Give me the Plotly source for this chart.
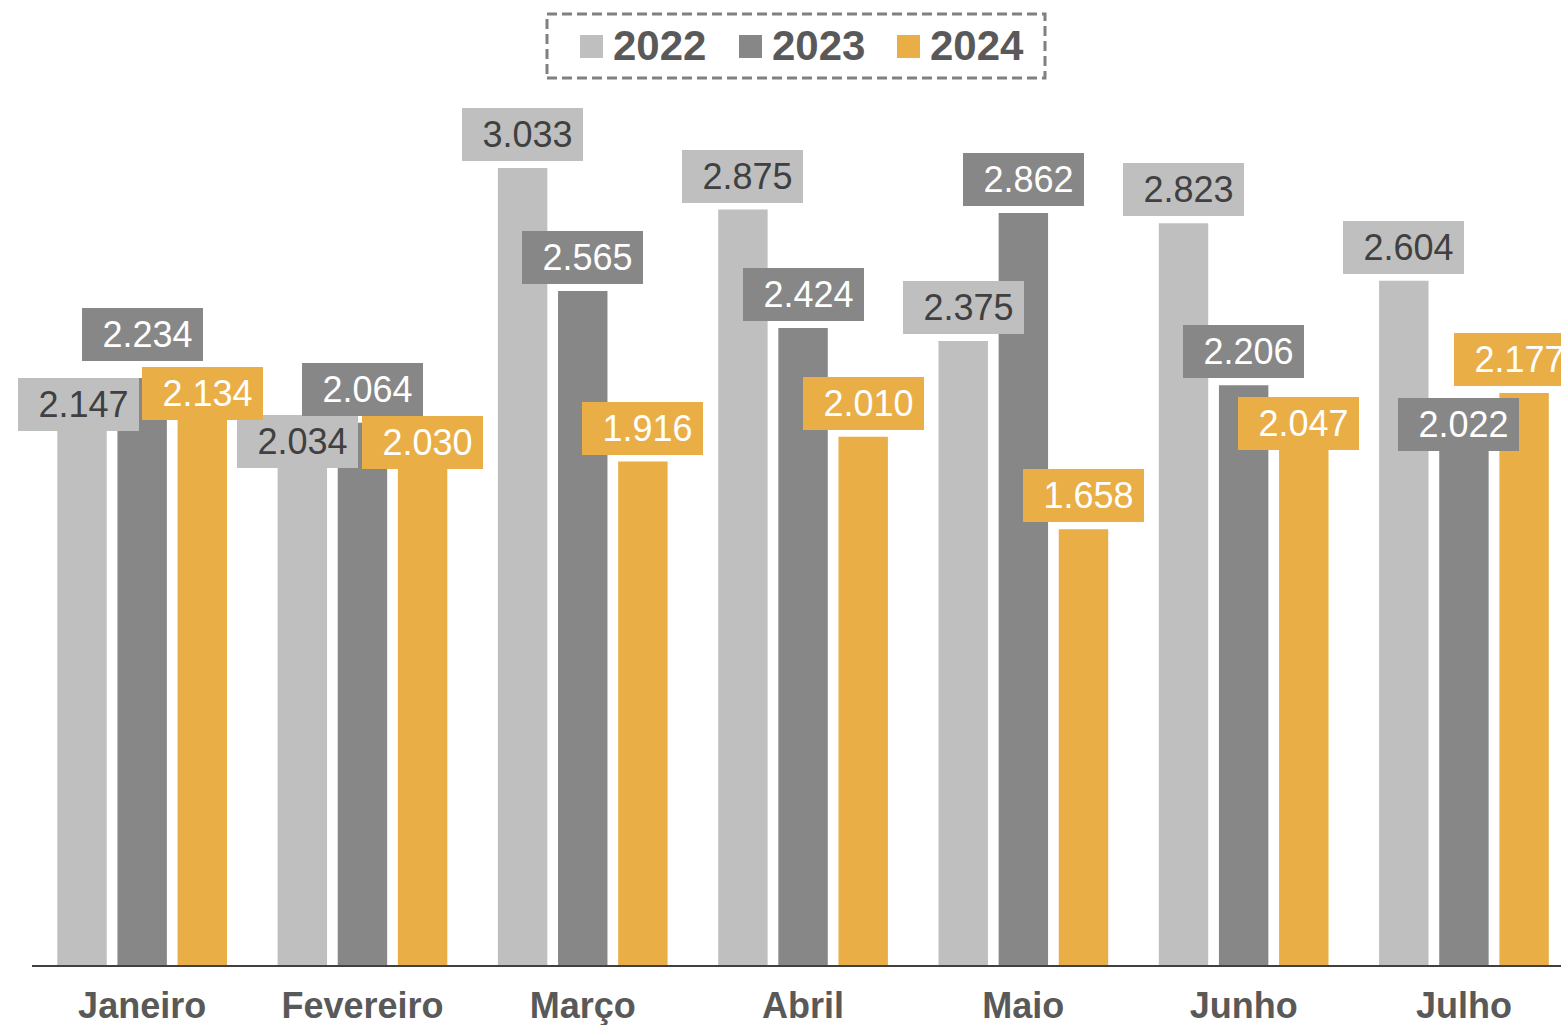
import plotly.graph_objects as go

# ---- data ----
months = ["Janeiro", "Fevereiro", "Março", "Abril", "Maio", "Junho", "Julho"]
series_names = ["2022", "2023", "2024"]
values_2022 = [2.147, 2.034, 3.033, 2.875, 2.375, 2.823, 2.604]
values_2023 = [2.234, 2.064, 2.565, 2.424, 2.862, 2.206, 2.022]
values_2024 = [2.134, 2.030, 1.916, 2.010, 1.658, 2.047, 2.177]

# ---- styles ----
W, H = 1561, 1025
PLOT_LEFT, PLOT_TOP, PLOT_BOTTOM = 32, 85, 965  # page pixels
ML, MR = PLOT_LEFT, 0
MT, MB = PLOT_TOP, H - PLOT_BOTTOM
colors = ["#BFBFBF", "#878787", "#EAAE46"]
label_text_colors = ["#404040", "#FFFFFF", "#FFFFFF"]
FONT = "Arial, Liberation Sans, sans-serif"
BARGAP = 0.181
BARGROUPGAP = 0.178
YMAX = 3.349

# manual label displacements (px) for labels moved to avoid overlap: (series, month) -> (dx, dy)
label_moves = {
    (0, 0): (-4, 37), (1, 0): (0, -10), (2, 0): (0, 23),
    (0, 1): (-5, 44), (2, 1): (0, 44),
    (2, 5): (-5, 30),
    (1, 6): (-5, 24), (2, 6): (-10, 0),
}

all_values = [values_2022, values_2023, values_2024]

fig = go.Figure()
for k, (name, vals) in enumerate(zip(series_names, all_values)):
    fig.add_trace(go.Bar(
        x=months, y=vals, name=name,
        marker=dict(color=colors[k], line=dict(width=0)),
        showlegend=False,
    ))

slot = (1 - BARGAP) / 3
annotations = []
for k, vals in enumerate(all_values):
    for i, v in enumerate(vals):
        dx, dy = label_moves.get((k, i), (0, 0))
        txt = f"{v:.3f}"
        annotations.append(dict(
            x=i + (k - 1) * slot, y=v, xref="x", yref="y",
            text="\u00a0" + txt, showarrow=False,
            xanchor="center", yanchor="bottom",
            xshift=dx, yshift=7 - dy,
            width=111, height=43, align="center", valign="middle",
            bgcolor=colors[k], borderpad=5, borderwidth=0,
            font=dict(family=FONT, size=36, color=label_text_colors[k]),
        ))

pw = W - ML - MR
ph = H - MT - MB


def px_x(px):
    return (px - PLOT_LEFT) / pw


def px_y(py):
    return (PLOT_BOTTOM - py) / ph


shapes = []
# legend frame
shapes.append(dict(type="rect", xref="paper", yref="paper",
                   x0=px_x(547), x1=px_x(1045), y0=px_y(78), y1=px_y(14),
                   line=dict(color="#808080", width=3, dash="10px,5px"),
                   fillcolor="rgba(0,0,0,0)"))
legend_sq = [580, 739, 897]
legend_tx = [613, 772, 930]
for k in range(3):
    shapes.append(dict(type="rect", xref="paper", yref="paper",
                       x0=px_x(legend_sq[k]), x1=px_x(legend_sq[k] + 23),
                       y0=px_y(58), y1=px_y(35),
                       line=dict(width=0), fillcolor=colors[k]))
    annotations.append(dict(
        x=px_x(legend_tx[k]), y=px_y(45), xref="paper", yref="paper",
        text=series_names[k], showarrow=False, xanchor="left", yanchor="middle",
        borderpad=0, borderwidth=0,
        font=dict(family=FONT, size=42, color="#595959", weight="bold"),
    ))

fig.update_layout(
    width=W, height=H,
    margin=dict(l=ML, r=MR, t=MT, b=MB, pad=0, autoexpand=False),
    paper_bgcolor="white", plot_bgcolor="white",
    barmode="group", bargap=BARGAP, bargroupgap=BARGROUPGAP,
    annotations=annotations, shapes=shapes,
    showlegend=False,
)
fig.update_xaxes(
    range=[-0.5, -0.5 + pw / 220.3], automargin=False,
    showline=True, linecolor="#404040", linewidth=2,
    ticks="", showgrid=False, zeroline=False, ticklabelstandoff=8,
    tickfont=dict(family=FONT, size=36, color="#595959", weight="bold"),
)
fig.update_yaxes(range=[0, YMAX], visible=False, showgrid=False, zeroline=False,
                 automargin=False)

fig.write_html(
    "out.html",
    config={"displayModeBar": False},
    post_script="document.body.style.margin='0';document.body.style.overflow='hidden';",
)
